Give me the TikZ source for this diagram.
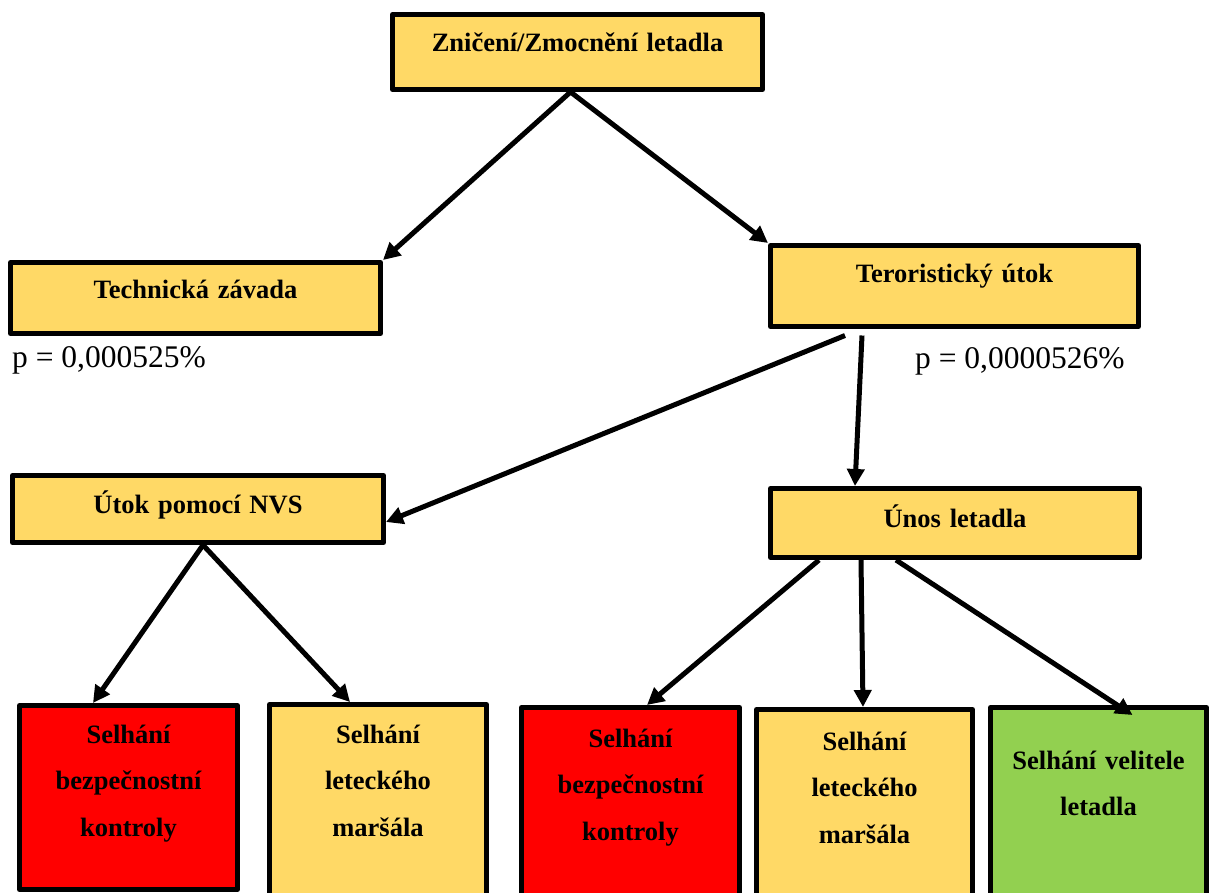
\documentclass[tikz,border=0pt]{standalone}
\usepackage{fontspec}
\setmainfont{Liberation Serif}
\usetikzlibrary{arrows.meta}
\definecolor{zluta}{HTML}{FFD966}
\definecolor{cervena}{HTML}{FF0000}
\definecolor{zelena}{HTML}{92D050}

\begin{document}
\begin{tikzpicture}[x=1pt, y=-1pt, line join=round,
  box/.style={draw, line width=5pt, fill=zluta, inner sep=0pt, anchor=base,
    align=center, font=\bfseries\fontsize{26.5}{46.5}\selectfont},
  arr/.style={line width=5pt, -{Triangle[length=17pt,width=17pt]}},
  prob/.style={inner sep=0pt, anchor=base west, font=\fontsize{31.5}{36}\selectfont}]
\useasboundingbox (0,0) rectangle (1209,892);

% udalosti
\node[box, text width=370pt, text height=36.5pt, text depth=38.5pt] (zn) at (577.5,51) {Zničení/Zmocnění letadla};
\node[box, text width=370pt, text height=35.5pt, text depth=35.5pt] (tech) at (195.5,298) {Technická závada};
\node[box, text width=368pt, text height=36.5pt, text depth=44.5pt] (ter) at (954.5,282) {Teroristický útok};
\node[box, text width=371pt, text height=37.5pt, text depth=29.5pt] (nvs) at (198,513) {Útok pomocí NVS};
\node[box, text width=369pt, text height=38.5pt, text depth=30.5pt] (unos) at (955,527) {Únos letadla};

% selhani
\node[box, fill=cervena, text width=218pt, text height=37.5pt, text depth=146.5pt] (sbk1) at (128.5,743) {Selhání\\bezpečnostní\\kontroly};
\node[box, text width=217pt, text height=38.5pt, text depth=156.5pt] (slm1) at (378,743) {Selhání\\leteckého\\maršála};
\node[box, fill=cervena, text width=218pt, text height=39.5pt, text depth=152.5pt] (sbk2) at (630.5,747) {Selhání\\bezpečnostní\\kontroly};
\node[box, text width=216pt, text height=40.5pt, text depth=149.5pt] (slm2) at (864.5,750) {Selhání\\leteckého\\maršála};
\node[box, fill=zelena, text width=216pt, text height=61.5pt, text depth=130.5pt] (svl) at (1098.5,769) {Selhání velitele\\letadla};

% pravdepodobnosti
\node[prob] (ptech) at (12,367) {p = 0,000525\%};
\node[prob] (pter) at (915,368) {p = 0,0000526\%};

\draw[arr] ([xshift=-7pt]zn.south) -- (tech.north east);
\draw[arr] ([xshift=-7pt]zn.south) -- (ter.north west);
\draw[arr] ([xshift=-109.5pt,yshift=-6.5pt]ter.south) -- ([yshift=-13pt]nvs.east);
\draw[arr] ([xshift=-92.5pt,yshift=-6.5pt]ter.south) -- ([xshift=-100pt]unos.north);
\draw[arr] ([xshift=5pt]nvs.south) -- ([xshift=-35.5pt]sbk1.north);
\draw[arr] ([xshift=5pt]nvs.south) -- ([xshift=-28pt]slm1.north);
\draw[arr] ([xshift=-136pt]unos.south) -- ([xshift=16.5pt]sbk2.north);
\draw[arr] ([xshift=-94pt]unos.south) -- ([xshift=-1.5pt]slm2.north);
\draw[arr] ([xshift=-59pt]unos.south) -- ([xshift=34pt,yshift=-10pt]svl.north);
\end{tikzpicture}
\end{document}
